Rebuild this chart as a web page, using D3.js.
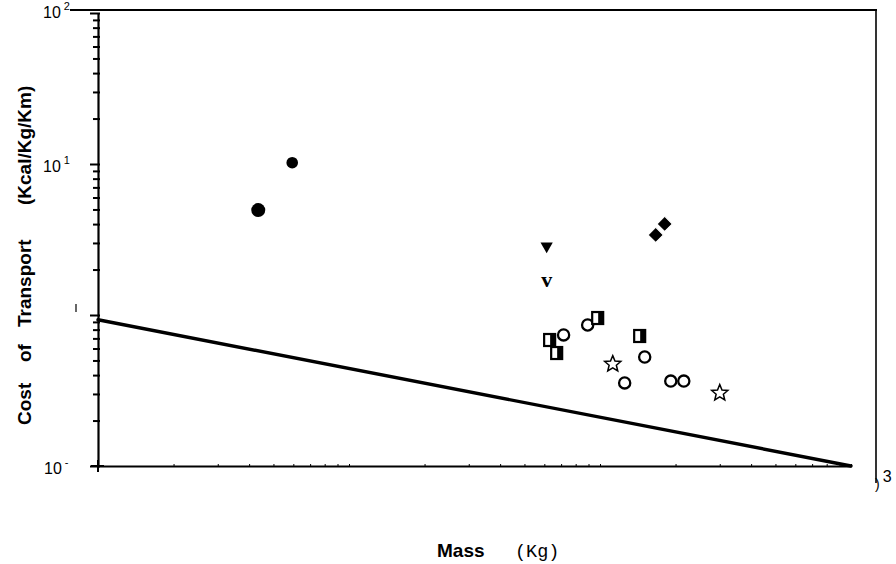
<!DOCTYPE html>
<html><head><meta charset="utf-8">
<script src="https://cdn.jsdelivr.net/npm/d3@7"></script>
<style>body{margin:0;background:#fff}svg{display:block}</style>
</head><body>
<svg id="c" width="896" height="564"></svg>
<script>
// ---- data (mass in Kg, cost in Kcal/Kg/Km) ----
const filledCircleMass = [4.35, 5.94];
const filledCircleCost = [4.95, 10.2];
const filledCircleR = [7, 5.8];
const triangleMass = [61.3];
const triangleCost = [2.86];
const vMass = [61.3];
const vCost = [1.68];
const diamondMass = [166.7, 181];
const diamondCost = [3.39, 4.01];
const openCircleMass = [71.6, 89.3, 125.4, 150.7, 191.4, 215.7];
const openCircleCost = [0.738, 0.859, 0.355, 0.527, 0.365, 0.365];
const squareMass = [63.0, 67.2, 97.9, 143.9];
const squareCost = [0.683, 0.560, 0.955, 0.726];
const starMass = [112.4, 300];
const starCost = [0.473, 0.304];
const lineMass = [1, 1000];
const lineCost = [0.93, 0.1];
const xDomain = [1, 1000];
const yDomain = [0.1, 100];
const yTitleParts = ["Cost", "of", "Transport", "(Kcal/Kg/Km)"];

const svg = d3.select("#c");
const x = d3.scaleLog().domain(xDomain).range([98, 851]);
const y = d3.scaleLog().domain(yDomain).range([466, 13]);
const SANS = "Liberation Sans, Arial, sans-serif";
const MONO = "Liberation Mono, Courier New, monospace";

// frame pieces
svg.append("line").attr("x1",70).attr("x2",877).attr("y1",10).attr("y2",10).attr("stroke","#000").attr("stroke-width",2);
svg.append("line").attr("x1",876).attr("x2",876).attr("y1",9).attr("y2",483).attr("stroke","#000").attr("stroke-width",1.6);

// left axis (ticks only, custom labels)
const yAxis = d3.axisLeft(y).tickValues(y.ticks()).tickFormat("").tickSizeInner(5).tickSizeOuter(0);
const gy = svg.append("g").attr("transform","translate(98,0)").call(yAxis);
gy.select(".domain").attr("stroke-width",2.2);
gy.selectAll(".tick line").attr("stroke-width",2).attr("x2",-5).attr("x1",2);
gy.selectAll(".tick").filter(d=>Math.abs(Math.log10(d)-Math.round(Math.log10(d)))<1e-9).select("line").attr("x2",-8);
svg.append("line").attr("x1",98).attr("x2",98).attr("y1",460).attr("y2",472).attr("stroke","#000").attr("stroke-width",2);

// bottom axis
const xAxis = d3.axisBottom(x).tickValues(x.ticks()).tickFormat("").tickSizeInner(-2).tickSizeOuter(0);
const gx = svg.append("g").attr("transform","translate(0,466)").call(xAxis);
gx.select(".domain").attr("stroke-width",2.2);
gx.selectAll(".tick line").attr("stroke-width",1);
svg.append("line").attr("x1",91).attr("x2",104).attr("y1",466).attr("y2",466).attr("stroke","#000").attr("stroke-width",2);

// y tick labels
function supLabel(xp, yp, base, sup){
  const t = svg.append("text").attr("x",xp).attr("y",yp).attr("font-family",SANS).attr("font-size",16).attr("fill","#000");
  t.append("tspan").text(base);
  t.append("tspan").attr("dy",-8).attr("dx",3).attr("font-size",11).text(sup);
}
supLabel(43, y(10)+8, "10", "1");
supLabel(44, y(0.1)+8, "10", "-");
supLabel(43, 18, "10", "2");
svg.append("line").attr("x1",76).attr("x2",76).attr("y1",y(1)-11).attr("y2",y(1)-3).attr("stroke","#000").attr("stroke-width",1.2);
// right end partial label
const rl = svg.append("text").attr("x",875).attr("y",489).attr("font-family",SANS).attr("font-size",14).attr("fill","#000");
rl.append("tspan").text(")");
rl.append("tspan").attr("dy",-7).attr("dx",3).attr("font-size",16).text("3");

// y axis title in pieces (rotated)
const yTitleStart = [425, 362, 327, 205];
yTitleParts.forEach((s,i)=>{
  svg.append("text").attr("transform",`translate(31,${yTitleStart[i]}) rotate(-90)`)
    .attr("font-family",SANS).attr("font-weight","bold").attr("font-size",19).text(s);
});
// x axis title
svg.append("text").attr("x",437).attr("y",557).attr("font-family",SANS).attr("font-weight","bold").attr("font-size",19).text("Mass");
svg.append("text").attr("x",515).attr("y",557).attr("font-family",MONO).attr("font-size",18.5).text("(Kg)");

// regression line
const lineData = lineMass.map((m,i)=>[m, lineCost[i]]);
svg.append("path").datum(lineData)
  .attr("d", d3.line().x(d=>x(d[0])).y(d=>y(d[1])))
  .attr("stroke","#000").attr("stroke-width",3.4).attr("fill","none").attr("stroke-linecap","round");

// filled circles
svg.selectAll(".fc").data(filledCircleMass.map((m,i)=>({m, c:filledCircleCost[i], r:filledCircleR[i]})))
  .join("circle").attr("cx",d=>x(d.m)).attr("cy",d=>y(d.c)).attr("r",d=>d.r).attr("fill","#000");

// filled triangle down
svg.selectAll(".tri").data(triangleMass.map((m,i)=>({m, c:triangleCost[i]})))
  .join("path").attr("d", d3.symbol().type(d3.symbolTriangle).size(65)())
  .attr("transform",d=>`translate(${x(d.m)},${y(d.c)}) rotate(180)`).attr("fill","#000");

// "v" marker
svg.selectAll(".vv").data(vMass.map((m,i)=>({m, c:vCost[i]})))
  .join("text").attr("x",d=>x(d.m)).attr("y",d=>y(d.c)+6).attr("text-anchor","middle")
  .attr("font-family","Liberation Serif, Times New Roman, serif").attr("font-weight","bold").attr("font-size",22).text("v");

// diamonds
svg.selectAll(".dia").data(diamondMass.map((m,i)=>({m, c:diamondCost[i]})))
  .join("path").attr("d", d3.symbol().type(d3.symbolSquare).size(115)())
  .attr("transform",d=>`translate(${x(d.m)},${y(d.c)}) rotate(45)`).attr("fill","#000").attr("stroke","#fff").attr("stroke-width",1);

// open circles
svg.selectAll(".oc").data(openCircleMass.map((m,i)=>({m, c:openCircleCost[i]})))
  .join("circle").attr("cx",d=>x(d.m)).attr("cy",d=>y(d.c)).attr("r",5.6).attr("fill","#fff").attr("stroke","#000").attr("stroke-width",2.3);

// half-filled squares
const sq = svg.selectAll(".sq").data(squareMass.map((m,i)=>({m, c:squareCost[i]}))).join("g")
  .attr("transform",d=>`translate(${x(d.m)},${y(d.c)})`);
sq.append("rect").attr("x",-5.5).attr("y",-6).attr("width",11).attr("height",12).attr("fill","#fff").attr("stroke","#000").attr("stroke-width",2.2);
sq.append("rect").attr("x",0.5).attr("y",-6).attr("width",5).attr("height",12).attr("fill","#000");

// open stars
function starPath(R, r){
  const pts=[];
  for(let i=0;i<10;i++){const a=-Math.PI/2+i*Math.PI/5; const rr=i%2?r:R; pts.push([rr*Math.cos(a), rr*Math.sin(a)]);}
  return "M"+pts.map(p=>p.join(",")).join("L")+"Z";
}
svg.selectAll(".st").data(starMass.map((m,i)=>({m, c:starCost[i]})))
  .join("path").attr("d", starPath(8.5, 3.8))
  .attr("transform",d=>`translate(${x(d.m)},${y(d.c)})`).attr("fill","#fff").attr("stroke","#000").attr("stroke-width",1.5).attr("stroke-linejoin","miter");
</script>
</body></html>
